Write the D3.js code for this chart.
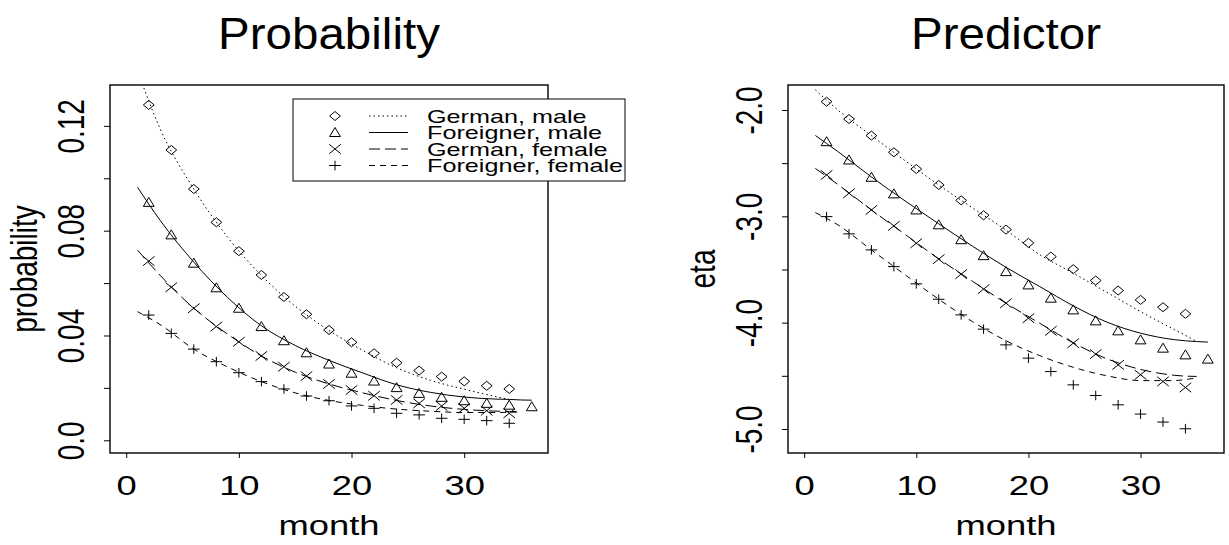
<!DOCTYPE html>
<html lang="en">
<head>
<meta charset="UTF-8">
<title>Probability / Predictor</title>
<script src="https://cdn.jsdelivr.net/npm/d3@7"></script>
<style>
    body { margin: 0; background: #fff; }
    svg { display: block; font-family: "Liberation Sans", Arial, Helvetica, sans-serif; }
    .frame { fill: none; stroke: #000; stroke-width: 1.4px; }
    .tick line { stroke: #000; stroke-width: 1px; }
    .fit { fill: none; stroke: #000; stroke-width: 1px; }
    .mark { fill: none; stroke: #000; stroke-width: 1px; }
    text { fill: #000; }
</style>
</head>
<body>
<script>
    // groups, in legend order
    var groups = ["German, male", "Foreigner, male", "German, female", "Foreigner, female"];
    var symbols = ["diamond", "triangle", "cross", "plus"];
    var dashes = ["1.5,3", null, "11,5", "6,5"];

    // observed points
    var months = [2, 4, 6, 8, 10, 12, 14, 16, 18, 20, 22, 24, 26, 28, 30, 32, 34, 36];
    var probGermanMale = [0.128, 0.1108, 0.0959, 0.0832, 0.0722, 0.0631, 0.0547, 0.0481, 0.0421, 0.0374, 0.0332, 0.0296, 0.0266, 0.0243, 0.0225, 0.0208, 0.0196, null];
    var probForeignMale = [0.0908, 0.0784, 0.0676, 0.0582, 0.0504, 0.0434, 0.0380, 0.0334, 0.0291, 0.0256, 0.0226, 0.0201, 0.0179, 0.0164, 0.0151, 0.0141, 0.0134, 0.0128];
    var probGermanFemale = [0.0684, 0.0584, 0.0504, 0.0434, 0.0376, 0.0322, 0.0281, 0.0245, 0.0215, 0.0192, 0.0170, 0.0154, 0.0141, 0.0131, 0.0122, 0.0113, 0.0103, null];
    var probForeignFemale = [0.0478, 0.0408, 0.0348, 0.0300, 0.0258, 0.0224, 0.0196, 0.0169, 0.0151, 0.0131, 0.0122, 0.0103, 0.0097, 0.0084, 0.0080, 0.0075, 0.0065, null];

    var etaGermanMale = [-1.922, -2.085, -2.241, -2.398, -2.555, -2.705, -2.850, -2.990, -3.125, -3.250, -3.379, -3.497, -3.604, -3.698, -3.786, -3.855, -3.917, null];
    var etaForeignMale = [-2.298, -2.470, -2.633, -2.789, -2.940, -3.080, -3.220, -3.370, -3.520, -3.645, -3.770, -3.880, -3.983, -4.077, -4.162, -4.240, -4.303, -4.343];
    var etaGermanFemale = [-2.611, -2.783, -2.940, -3.090, -3.253, -3.403, -3.544, -3.685, -3.817, -3.958, -4.077, -4.193, -4.296, -4.397, -4.490, -4.553, -4.610, null];
    var etaForeignFemale = [-3.003, -3.165, -3.316, -3.473, -3.635, -3.780, -3.927, -4.061, -4.209, -4.334, -4.460, -4.585, -4.685, -4.773, -4.860, -4.935, -4.998, null];

    // fitted curves
    var fitMonths = [1, 3, 6, 9, 12, 15, 18, 21, 24, 27, 30, 33, 34, 35, 36];
    var fitProbGermanMale = [0.141, 0.119, 0.0959, 0.0775, 0.0629, 0.0512, 0.0419, 0.0343, 0.0277, 0.0229, 0.0195, 0.0165, 0.0156, null, null];
    var fitProbForeignMale = [0.0966, 0.084, 0.068, 0.0545, 0.0437, 0.0362, 0.0305, 0.0257, 0.0212, 0.0183, 0.0165, 0.0157, 0.0156, 0.0154, 0.0153];
    var fitProbGermanFemale = [0.0726, 0.063, 0.0504, 0.0405, 0.0322, 0.0260, 0.0215, 0.0181, 0.0152, 0.0131, 0.0118, 0.0111, 0.0110, 0.0109, null];
    var fitProbForeignFemale = [0.0491, 0.0442, 0.0348, 0.0280, 0.0224, 0.0181, 0.0152, 0.0133, 0.0119, 0.0111, 0.0106, 0.0106, 0.0107, 0.0108, null];

    var fitEtaGermanMale = [-1.81, -2.00, -2.241, -2.477, -2.705, -2.92, -3.13, -3.36, -3.535, -3.715, -3.896, -4.065, -4.12, -4.177, null];
    var fitEtaForeignMale = [-2.24, -2.39, -2.63, -2.855, -3.07, -3.28, -3.48, -3.66, -3.842, -3.995, -4.099, -4.16, -4.171, -4.178, -4.183];
    var fitEtaGermanFemale = [-2.55, -2.70, -2.94, -3.17, -3.40, -3.61, -3.817, -4.005, -4.19, -4.34, -4.44, -4.495, -4.503, -4.506, null];
    var fitEtaForeignFemale = [-2.965, -3.08, -3.316, -3.55, -3.78, -3.99, -4.17, -4.31, -4.42, -4.50, -4.545, -4.545, -4.535, -4.52, null];

    // ticks
    var xTicks = [0, 10, 20, 30];
    var xTickLabels = ["0", "10", "20", "30"];
    var probTicks = [0, 0.02, 0.04, 0.06, 0.08, 0.10, 0.12];
    var probTickLabels = ["0.0", "", "0.04", "", "0.08", "", "0.12"];
    var etaTicks = [-5, -4.5, -4, -3.5, -3, -2.5, -2];
    var etaTickLabels = ["-5.0", "", "-4.0", "", "-3.0", "", "-2.0"];

    var width = 1229, height = 545;
    var sx = 1.3;        // output is stretched sideways
    var tickFont = 28;

    var svg = d3.select("body").append("svg")
            .attr("width", width)
            .attr("height", height);

    function addText(g, x, y, str, size, stretch, rotate) {
        return g.append("text")
                .attr("transform", "translate(" + x + "," + y + ") scale(" + stretch + ",1)" + (rotate ? " rotate(-90)" : ""))
                .attr("text-anchor", "middle")
                .style("font-size", size + "px")
                .text(str);
    }

    function symbolPath(type) {
        var hx = 5.4, hy = 4.5;
        if (type == "diamond") return "M0," + (-hy) + "L" + hx + ",0L0," + hy + "L" + (-hx) + ",0Z";
        if (type == "triangle") return "M0," + (-hy - 0.5) + "L" + hx + "," + (hy - 0.5) + "L" + (-hx) + "," + (hy - 0.5) + "Z";
        if (type == "cross") return "M" + (-5.8) + "," + (-4.7) + "L5.8,4.7M" + (-5.8) + ",4.7L5.8," + (-4.7);
        return "M" + (-5.8) + ",0L5.8,0M0," + (-4.8) + "L0,4.8";
    }

    function panel(opt) {
        var x = d3.scaleLinear().domain([-1.44, 37.44]).range([opt.x0, opt.x1]);
        var y = d3.scaleLinear().domain(opt.yDomain).range([opt.y1, opt.y0]);
        var g = svg.append("g");

        g.append("clipPath").attr("id", opt.id)
                .append("rect")
                .attr("x", opt.x0).attr("y", opt.y0)
                .attr("width", opt.x1 - opt.x0).attr("height", opt.y1 - opt.y0);

        // fitted lines
        var line = d3.line()
                .defined(function (d) { return d[1] != null; })
                .x(function (d) { return x(d[0]); })
                .y(function (d) { return y(d[1]); })
                .curve(d3.curveMonotoneX);
        opt.fits.forEach(function (vals, i) {
            g.append("path")
                    .attr("class", "fit")
                    .attr("clip-path", "url(#" + opt.id + ")")
                    .attr("stroke-dasharray", dashes[i])
                    .attr("d", line(fitMonths.map(function (m, j) { return [m, vals[j]]; })));
        });

        // observed points
        opt.points.forEach(function (vals, i) {
            g.append("g").selectAll("path")
                    .data(months.map(function (m, j) { return [m, vals[j]]; })
                            .filter(function (d) { return d[1] != null; }))
                    .enter()
                    .append("path")
                    .attr("class", "mark")
                    .attr("transform", function (d) {
                        return "translate(" + x(d[0]) + "," + y(d[1]) + ")";
                    })
                    .attr("d", symbolPath(symbols[i]));
        });

        g.append("rect").attr("class", "frame")
                .attr("x", opt.x0).attr("y", opt.y0)
                .attr("width", opt.x1 - opt.x0).attr("height", opt.y1 - opt.y0);

        // x axis
        var xa = g.append("g")
                .attr("transform", "translate(0," + opt.y1 + ")")
                .call(d3.axisBottom(x).tickValues(xTicks).tickSize(5)
                        .tickFormat(function (d, i) { return xTickLabels[i]; }));
        xa.select(".domain").remove();
        xa.selectAll(".tick text")
                .attr("y", null).attr("dy", null)
                .attr("transform", "translate(0,42) scale(" + sx + ",1)")
                .style("font-size", tickFont + "px")
                .style("font-family", "inherit");

        // y axis
        var ya = g.append("g")
                .attr("transform", "translate(" + opt.x0 + ",0)")
                .call(d3.axisLeft(y).tickValues(opt.ticks).tickSize(6)
                        .tickFormat(function (d, i) { return opt.tickLabels[i]; }));
        ya.select(".domain").remove();
        ya.selectAll(".tick text")
                .attr("x", null).attr("dy", null)
                .attr("text-anchor", "middle")
                .attr("transform", "translate(-26,0) scale(" + sx + ",1) rotate(-90)")
                .style("font-size", tickFont + "px")
                .style("font-family", "inherit");

        addText(g, (opt.x0 + opt.x1) / 2, 535, "month", tickFont, sx, false);
        addText(g, opt.x0 - 73, (opt.y0 + opt.y1) / 2, opt.ylab, tickFont, sx, true);
        addText(g, (opt.x0 + opt.x1) / 2, 49, opt.title, 44, 1.08, false);
    }

    panel({
        id: "clipL", x0: 110, x1: 548, y0: 85, y1: 453,
        yDomain: [-0.00485, 0.1356],
        ticks: probTicks, tickLabels: probTickLabels,
        title: "Probability", ylab: "probability",
        points: [probGermanMale, probForeignMale, probGermanFemale, probForeignFemale],
        fits: [fitProbGermanMale, fitProbForeignMale, fitProbGermanFemale, fitProbForeignFemale]
    });

    panel({
        id: "clipR", x0: 788, x1: 1224, y0: 85, y1: 453,
        yDomain: [-5.226, -1.765],
        ticks: etaTicks, tickLabels: etaTickLabels,
        title: "Predictor", ylab: "eta",
        points: [etaGermanMale, etaForeignMale, etaGermanFemale, etaForeignFemale],
        fits: [fitEtaGermanMale, fitEtaForeignMale, fitEtaGermanFemale, fitEtaForeignFemale]
    });

    // legend (sits over the left panel's right border)
    var lg = svg.append("g");
    lg.append("rect")
            .attr("x", 293).attr("y", 99)
            .attr("width", 332).attr("height", 82)
            .attr("fill", "#fff").attr("stroke", "#000").attr("stroke-width", 1);
    var rowY = d3.scaleLinear().domain([0, 3]).range([116, 165.5]);
    groups.forEach(function (name, i) {
        lg.append("path").attr("class", "mark")
                .attr("transform", "translate(335," + rowY(i) + ")")
                .attr("d", symbolPath(symbols[i]));
        lg.append("line")
                .attr("x1", 369).attr("x2", 408)
                .attr("y1", rowY(i)).attr("y2", rowY(i))
                .attr("stroke", "#000").attr("stroke-width", 1)
                .attr("stroke-dasharray", dashes[i]);
        lg.append("text")
                .attr("transform", "translate(427," + (rowY(i) + 6.5) + ") scale(1.44,1)")
                .style("font-size", "17.5px")
                .text(name);
    });
</script>
</body>
</html>
